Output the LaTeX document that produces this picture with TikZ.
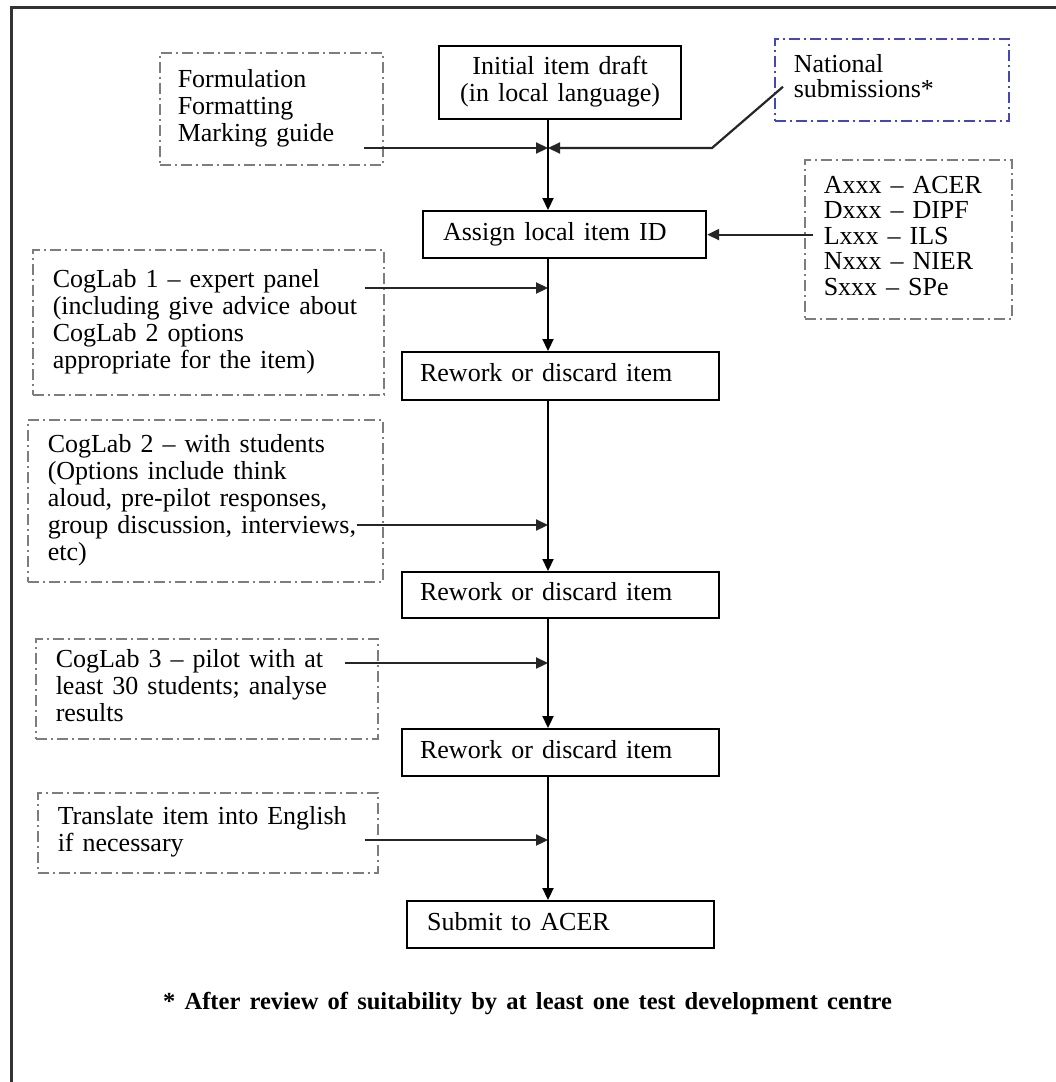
\documentclass[tikz,border=0pt]{standalone}
\usepackage{fontspec}
\setmainfont{Liberation Serif}[WordSpace=1.5]
\usetikzlibrary{arrows.meta,calc}
\definecolor{natblue}{RGB}{70,70,185}
\definecolor{dashgray}{RGB}{125,125,125}
\newcommand{\lns}[2][27]{\fontsize{26}{#1}\selectfont\spaceskip=9pt plus 2pt\relax\begin{tabular}{@{}l@{}}#2\end{tabular}}
\newcommand{\clns}[2][27]{\fontsize{26}{#1}\selectfont\spaceskip=9pt plus 2pt\relax\begin{tabular}{@{}c@{}}#2\end{tabular}}
\begin{document}
\begin{tikzpicture}[x=1pt,y=-1pt,
  mainbox/.style={draw=black, line width=2.2pt, rectangle, anchor=north west, align=left, inner ysep=0pt},
  sidebox/.style={draw=dashgray, line width=1.5pt, dash pattern=on 11pt off 4pt on 2pt off 4pt, rectangle, anchor=north west, align=left, inner ysep=0pt},
  natbox/.style={sidebox, draw=natblue},
  arr/.style={line width=2.2pt, -{Triangle[length=12pt,width=11pt]}},
  feed/.style={arr, draw=black!85}]
\clip (0,0) rectangle (1056,1082);
\fill[white] (0,0) rectangle (1056,1082);
\draw[line width=3pt, draw=black!80] (11,1095) -- (11,7) -- (1070,7);

% main column
\node[mainbox, minimum width=242pt, minimum height=73pt, inner xsep=4pt, text width=234pt, align=center] (init) at (438,45) {\clns{Initial item draft\\(in local language)}};
\node[mainbox, minimum width=283pt, minimum height=47pt, inner xsep=20pt, text width=243pt] (assign) at (422,210) {\lns{Assign local item ID}};
\node[mainbox, minimum width=317pt, minimum height=48pt, inner xsep=18pt, text width=281pt] (rw1) at (401,351) {\lns{Rework or discard item}};
\node[mainbox, minimum width=317pt, minimum height=46pt, inner xsep=18pt, text width=281pt] (rw2) at (401,571) {\lns{Rework or discard item}};
\node[mainbox, minimum width=317pt, minimum height=47pt, inner xsep=18pt, text width=281pt] (rw3) at (401,728) {\lns{Rework or discard item}};
\node[mainbox, minimum width=307pt, minimum height=47pt, inner xsep=20pt, text width=267pt] (submit) at (406,900) {\lns{Submit to ACER}};

% side boxes
\node[sidebox, minimum width=223pt, minimum height=112pt, inner xsep=18pt, text width=187pt] (form) at (159,52) {\lns{Formulation\\Formatting\\Marking guide}};
\node[natbox, minimum width=234pt, minimum height=82pt, inner xsep=19pt, text width=196pt] (natl) at (774,38) {\lns[25]{National\\submissions*}};
\node[sidebox, minimum width=207pt, minimum height=159pt, inner xsep=19pt, text width=169pt] (agency) at (804,159) {\lns[25.5]{Axxx -- ACER\\Dxxx -- DIPF\\Lxxx -- ILS\\Nxxx -- NIER\\Sxxx -- SPe}};
\node[sidebox, minimum width=351pt, minimum height=145pt, inner xsep=20pt, text width=311pt] (cog1) at (32,249) {\lns{CogLab 1 -- expert panel\\(including give advice about\\CogLab 2 options\\appropriate for the item)}};
\node[sidebox, minimum width=355pt, minimum height=162pt, inner xsep=20pt, text width=315pt] (cog2) at (27,419) {\lns{CogLab 2 -- with students\\(Options include think\\aloud, pre-pilot responses,\\group discussion, interviews,\\etc)}};
\node[sidebox, minimum width=342pt, minimum height=100pt, inner xsep=20pt, text width=302pt] (cog3) at (35,638) {\lns{CogLab 3 -- pilot with at\\least 30 students; analyse\\results}};
\node[sidebox, minimum width=340pt, minimum height=80pt, inner xsep=20pt, text width=300pt] (trans) at (37,792) {\lns{Translate item into English\\if necessary}};

\node[anchor=base west, inner sep=0pt, font=\fontsize{24.5}{27}\selectfont\bfseries] (note) at (163,1009) {* After review of suitability by at least one test development centre};

% spine and junctions
\coordinate (spine) at (548,0);
\coordinate (j0) at (548,148);
\coordinate (j1) at (548,288);
\coordinate (j2) at (548,525);
\coordinate (j3) at (548,663);
\coordinate (j4) at (548,840);

\draw[arr] (init.south -| spine) -- (assign.north -| spine);
\draw[arr] (assign.south -| spine) -- (rw1.north -| spine);
\draw[arr] (rw1.south -| spine) -- (rw2.north -| spine);
\draw[arr] (rw2.south -| spine) -- (rw3.north -| spine);
\draw[arr] (rw3.south -| spine) -- (submit.north -| spine);

\draw[feed] ($(form.east |- j0)+(-20,0)$) -- (j0);
\draw[feed] ($(natl.west)+(9,7)$) -- ($(j0)+(164,0)$) -- (j0);
\draw[feed] ($(agency.west |- assign.east)+(9,0)$) -- (assign.east);
\draw[feed] ($(cog1.east |- j1)+(-20,0)$) -- (j1);
\draw[feed] ($(cog2.east |- j2)+(-27,0)$) -- (j2);
\draw[feed] ($(cog3.east |- j3)+(-34,0)$) -- (j3);
\draw[feed] ($(trans.east |- j4)+(-14,0)$) -- (j4);
\end{tikzpicture}
\end{document}
